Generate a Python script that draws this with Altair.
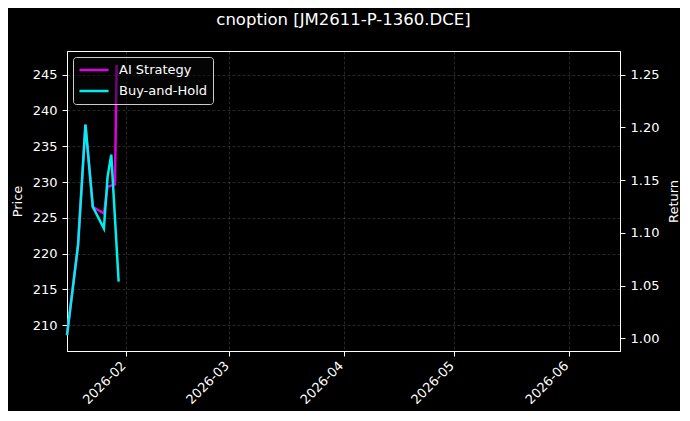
"Dual axis return chart for the cnoption contract"

import pandas as pd
import altair as alt

# Buy-and-Hold equity curve (return multiple)
bh_dates = ["2026-01-16T00:00:00Z", "2026-01-19T00:00:00Z", "2026-01-21T00:00:00Z",
            "2026-01-23T00:00:00Z", "2026-01-26T00:00:00Z", "2026-01-27T00:00:00Z",
            "2026-01-28T00:00:00Z", "2026-01-30T00:00:00Z"]
bh_returns = [1.003, 1.0885, 1.2027, 1.1247, 1.1042, 1.1531, 1.1742, 1.0537]

# AI Strategy equity curve
ai_dates = ["2026-01-16T00:00:00Z", "2026-01-19T00:00:00Z", "2026-01-21T00:00:00Z",
            "2026-01-23T00:00:00Z", "2026-01-26T00:00:00Z", "2026-01-27T00:00:00Z",
            "2026-01-28T00:00:00Z", "2026-01-29T00:00:00Z", "2026-01-29T11:00:00Z"]
ai_returns = [1.003, 1.0885, 1.2027, 1.1247, 1.1184, 1.1437, 1.1448, 1.1459, 1.2592]

series_names = ["AI Strategy", "Buy-and-Hold"]
series_colors = ["#e000e0", "#00eeee"]

price_ticks = [210, 215, 220, 225, 230, 235, 240, 245]
return_ticks = [1.00, 1.05, 1.10, 1.15, 1.20, 1.25]
month_ticks = [2, 3, 4, 5, 6]

FONT = "DejaVu Sans"

returns = pd.concat([
    pd.DataFrame({"date": ai_dates, "ret": ai_returns, "series": series_names[0]}),
    pd.DataFrame({"date": bh_dates, "ret": bh_returns, "series": series_names[1]}),
])
prices = pd.DataFrame({"price": price_ticks})

x_scale = alt.Scale(
    type="utc",
    domain=[alt.DateTime(year=2026, month=1, date=16, utc=True),
            alt.DateTime(year=2026, month=6, date=14, hours=22, utc=True)],
)

price_layer = alt.Chart(prices).mark_tick(opacity=0).encode(
    y=alt.Y("price:Q",
            scale=alt.Scale(domain=[206.4, 248.3], nice=False, zero=False),
            axis=alt.Axis(title="Price", values=price_ticks, format="d",
                          titleX=-50, titleY=150, titleAngle=270,
                          titleBaseline="middle")),
)

return_layer = alt.Chart(returns).mark_line(strokeWidth=2.5).encode(
    x=alt.X("date:T", scale=x_scale,
            axis=alt.Axis(title=None, format="%Y-%m",
                          values=[alt.DateTime(year=2026, month=m, date=1, utc=True)
                                  for m in month_ticks],
                          labelAngle=-45, labelAlign="right", labelBaseline="top",
                          labelOffset=-7, labelPadding=3)),
    y=alt.Y("ret:Q",
            scale=alt.Scale(domain=[0.988, 1.2724], nice=False, zero=False),
            axis=alt.Axis(title="Return", values=return_ticks, format=".2f",
                          orient="right", titleX=53, titleY=150, titleAngle=270,
                          titleBaseline="middle")),
    color=alt.Color("series:N",
                    scale=alt.Scale(domain=series_names, range=series_colors),
                    legend=alt.Legend(title=None, orient="top-left", offset=6,
                                      symbolType="stroke", symbolSize=850,
                                      symbolStrokeWidth=2.5, clipHeight=16,
                                      rowPadding=5, labelOffset=9, padding=5,
                                      fillColor="rgba(8,8,8,0.5)",
                                      strokeColor="#cccccc",
                                      cornerRadius=3, labelColor="#ffffff",
                                      labelFontSize=13, labelFont=FONT)),
    detail="series:N",
)

chart = alt.layer(price_layer, return_layer).resolve_scale(
    y="independent"
).properties(
    width=553,
    height=300,
    autosize=alt.AutoSizeParams(type="none"),
    padding={"left": 59, "top": 43, "right": 60, "bottom": 60},
    background="#000000",
    title=alt.TitleParams("cnoption [JM2611-P-1360.DCE]", fontSize=16.5, font=FONT,
                          fontWeight="normal", color="#ffffff", anchor="middle",
                          offset=23),
).configure_view(
    stroke="#ffffff", strokeWidth=1, fill="#000000"
).configure_axis(
    domainColor="#ffffff", tickColor="#ffffff", labelColor="#ffffff",
    titleColor="#ffffff", labelFont=FONT, titleFont=FONT, labelFontSize=13,
    titleFontSize=13, titleFontWeight="normal", tickSize=5, labelPadding=5,
    grid=True, gridColor="#ffffff", gridOpacity=0.22, gridDash=[3, 2],
    gridWidth=0.7,
)

chart.save("out.html", embed_options={"renderer": "svg", "actions": False})
